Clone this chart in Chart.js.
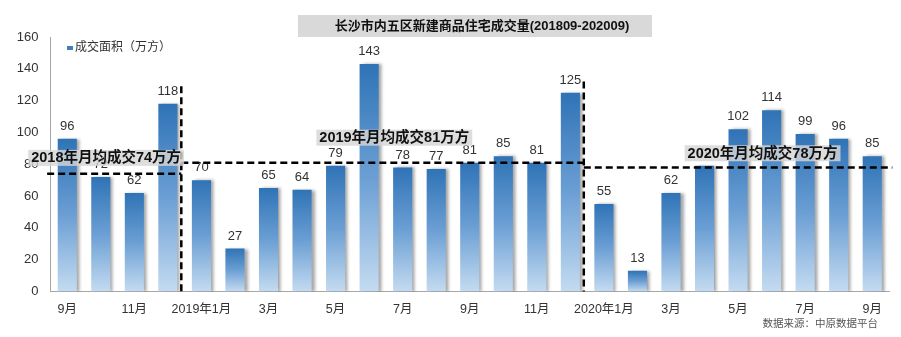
<!DOCTYPE html>
<html>
<head>
<meta charset="utf-8">
<script src="https://cdn.jsdelivr.net/npm/chart.js@4.4.1/dist/chart.umd.min.js"></script>
<style>
  html, body { margin: 0; padding: 0; background: #fff; }
  #wrap { width: 901px; height: 337px; position: relative; }
</style>
</head>
<body>
<div id="wrap"><canvas id="c"></canvas></div>
<script>
const FONT = "'Liberation Sans', Arial, 'Noto Sans CJK SC', sans-serif"

// 月份（2018年9月 — 2020年9月）
const months = [
  "9月", "10月", "11月", "12月",
  "2019年1月", "2月", "3月", "4月", "5月", "6月", "7月", "8月", "9月", "10月", "11月", "12月",
  "2020年1月", "2月", "3月", "4月", "5月", "6月", "7月", "8月", "9月"
]
// 成交面积（万方）
const area = [
  96, 72, 62, 118,
  70, 27, 65, 64, 79, 143, 78, 77, 81, 85, 81, 125,
  55, 13, 62, 79, 102, 114, 99, 96, 85
]
const yMax = 160
const yStep = 20

// 年度月均线：数值、起止（类目序号）、说明文字及其锚点（序号, 数值）
const avgValues = [74, 81, 78]
const avgSpans = [[-0.6, 3.4], [3.4, 15.4], [15.4, 24.6]]
const avgNotes = ["2018年月均成交74万方", "2019年月均成交81万方", "2020年月均成交78万方"]
const noteAnchors = [[1.16, 84], [9.75, 96.7], [20.73, 86.9]]
// 年份分隔竖线：位置（序号）与顶端（数值）
const dividers = [3.4, 15.4]
const dividerTops = [129, 132]

const title = "长沙市内五区新建商品住宅成交量(201809-202009)"
const seriesName = "成交面积（万方）"
const source = "数据来源：中原数据平台"

const xAt = (chart, f) => {
  const s = chart.scales.x
  const a = s.getPixelForValue(0), b = s.getPixelForValue(1)
  return a + (b - a) * f
}

const shadow = {
  id: "shadow",
  beforeDatasetsDraw(chart) {
    const ctx = chart.ctx
    ctx.save()
    ctx.shadowColor = "rgba(0,0,0,0.35)"
    ctx.shadowOffsetX = 3
    ctx.shadowOffsetY = 0
    ctx.shadowBlur = 3
  },
  afterDatasetsDraw(chart) {
    chart.ctx.restore()
  }
}

const decorations = {
  id: "decorations",
  afterDraw(chart) {
    const ctx = chart.ctx
    const y = chart.scales.y
    const meta = chart.getDatasetMeta(0)

    // 数据标签
    ctx.save()
    ctx.fillStyle = "#333"
    ctx.font = `13px ${FONT}`
    ctx.textAlign = "center"
    ctx.textBaseline = "bottom"
    meta.data.forEach((bar, i) => ctx.fillText(String(area[i]), bar.x, bar.y - 6))
    ctx.restore()

    // 月均虚线与分隔线
    ctx.save()
    ctx.strokeStyle = "#000"
    ctx.lineWidth = 2.5
    ctx.setLineDash([7, 4])
    avgValues.forEach((v, i) => {
      const py = y.getPixelForValue(v)
      ctx.beginPath()
      ctx.moveTo(xAt(chart, avgSpans[i][0]), py)
      ctx.lineTo(xAt(chart, avgSpans[i][1]), py)
      ctx.stroke()
    })
    dividers.forEach((d, i) => {
      const px = xAt(chart, d)
      ctx.beginPath()
      ctx.moveTo(px, y.getPixelForValue(dividerTops[i]))
      ctx.lineTo(px, y.getPixelForValue(0))
      ctx.stroke()
    })
    ctx.restore()

    // 月均说明
    ctx.save()
    ctx.font = `bold 14.5px ${FONT}`
    ctx.textAlign = "center"
    ctx.textBaseline = "middle"
    avgNotes.forEach((t, i) => {
      const cx = xAt(chart, noteAnchors[i][0])
      const cy = y.getPixelForValue(noteAnchors[i][1])
      const w = ctx.measureText(t).width + 6
      ctx.fillStyle = "rgba(214,214,214,0.82)"
      ctx.fillRect(cx - w / 2, cy - 8, w, 16)
      ctx.fillStyle = "#111"
      ctx.fillText(t, cx, cy + 0.5)
    })
    ctx.restore()

    // 标题
    ctx.save()
    ctx.fillStyle = "#d9d9d9"
    ctx.fillRect(298, 15, 354, 22)
    ctx.fillStyle = "#111"
    ctx.font = `bold 13px ${FONT}`
    ctx.textAlign = "center"
    ctx.textBaseline = "middle"
    ctx.fillText(title, 482, 26)

    // 图例
    ctx.fillStyle = "#3d7fc2"
    ctx.fillRect(67, 46, 6, 4)
    ctx.fillStyle = "#333"
    ctx.font = `12px ${FONT}`
    ctx.textAlign = "left"
    ctx.fillText(seriesName, 75, 48)

    // 数据来源
    ctx.fillStyle = "#555"
    ctx.font = `10.5px ${FONT}`
    ctx.textAlign = "right"
    ctx.fillText(source, 878, 324)
    ctx.restore()
  }
}

new Chart(document.getElementById("c"), {
  type: "bar",
  data: {
    labels: months,
    datasets: [{
      label: seriesName,
      data: area,
      barPercentage: 0.57,
      categoryPercentage: 1,
      backgroundColor(c) {
        const { chart, dataIndex } = c
        if (!chart.chartArea) return "#5b95cf"
        const top = chart.scales.y.getPixelForValue(area[dataIndex])
        const base = chart.scales.y.getPixelForValue(0)
        const g = chart.ctx.createLinearGradient(0, top, 0, base)
        g.addColorStop(0, "#2f73b6")
        g.addColorStop(0.5, "#6b9fd4")
        g.addColorStop(1, "#c4dbf1")
        return g
      }
    }]
  },
  options: {
    responsive: true,
    maintainAspectRatio: false,
    animation: false,
    layout: { padding: { top: 37, right: 12, bottom: 0, left: 0 } },
    plugins: {
      legend: { display: false },
      tooltip: { enabled: false }
    },
    scales: {
      x: {
        grid: { display: false, drawTicks: false },
        border: { color: "#a6a6a6", width: 1 },
        afterFit: (s) => { s.height = 45.5 },
        ticks: {
          autoSkip: false,
          maxRotation: 0,
          padding: 11,
          color: "#333",
          font: { family: FONT, size: 12.5 },
          callback: (v, i) => (i % 2 === 0 ? months[i] : "")
        }
      },
      y: {
        min: 0,
        max: yMax,
        grid: { display: false, drawTicks: false },
        border: { color: "#a6a6a6", width: 1 },
        afterFit: (s) => { s.width = 50.5 },
        ticks: {
          stepSize: yStep,
          padding: 12,
          color: "#333",
          font: { family: FONT, size: 13 }
        }
      }
    }
  },
  plugins: [shadow, decorations]
})
</script>
</body>
</html>
